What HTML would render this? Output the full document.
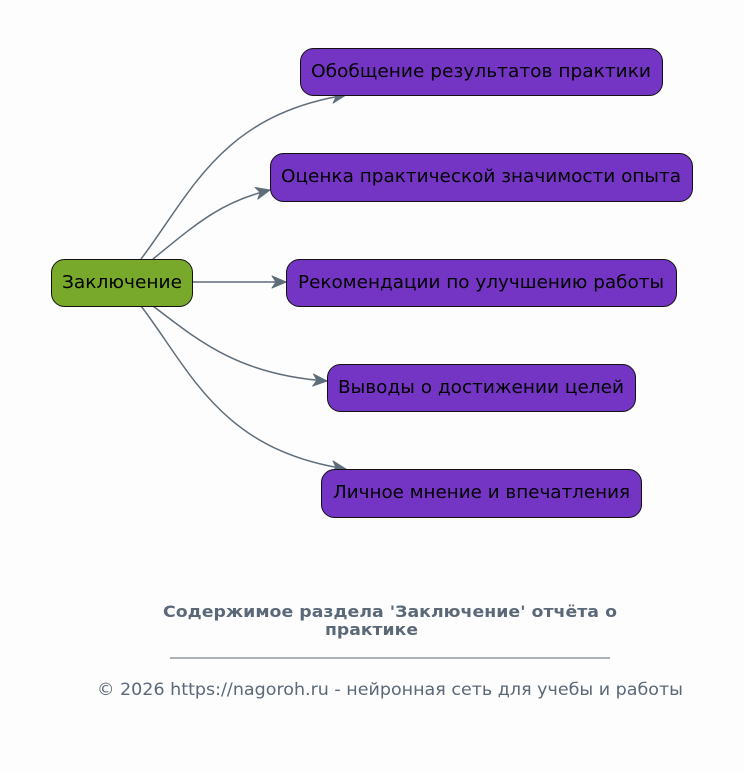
<!DOCTYPE html>
<html><head><meta charset="utf-8"><style>
html,body{margin:0;padding:0;background:#fdfdfd;}
svg{display:block;font-family:"DejaVu Sans","Liberation Sans",sans-serif;}
</style></head><body>
<svg width="744" height="773" viewBox="0 0 744 773" xmlns="http://www.w3.org/2000/svg">
<defs>
<marker id="a" viewBox="0 0 16 14" refX="15" refY="7" markerWidth="16" markerHeight="14" markerUnits="userSpaceOnUse" orient="auto">
<path d="M1,1 L15,7 L1,13 L5,7 Z" fill="#5f6d7a" stroke="#5f6d7a" stroke-width="1" stroke-linejoin="round"/>
</marker>
</defs>
<g fill="none" stroke="#5f6d7a" stroke-width="1.5" marker-end="url(#a)">
<path d="M141,259 C190,195 220,115 346,95"/>
<path d="M153,259 C195,225 220,202 270,190"/>
<path d="M192,282 L286,282"/>
<path d="M153,306 C200,342 240,375 327,381"/>
<path d="M141,306 C190,370 220,450 346,469"/>
</g>
<g stroke="#111" stroke-width="1">
<rect x="51.5" y="259.5" width="141" height="47" rx="13" fill="#79a92b"/>
<rect x="300.5" y="48.5" width="362" height="47" rx="13" fill="#7434c4"/>
<rect x="270.5" y="153.5" width="422" height="48" rx="13" fill="#7434c4"/>
<rect x="286.5" y="259.5" width="390" height="47" rx="13" fill="#7434c4"/>
<rect x="327.5" y="364.5" width="308" height="47" rx="13" fill="#7434c4"/>
<rect x="321.5" y="469.5" width="320" height="48" rx="13" fill="#7434c4"/>
</g>
<g font-size="17.5" fill="#000" lengthAdjust="spacingAndGlyphs">
<text x="62" y="288" textLength="120" lengthAdjust="spacingAndGlyphs">Заключение</text>
<text x="311" y="77" textLength="340" lengthAdjust="spacingAndGlyphs">Обобщение результатов практики</text>
<text x="281" y="182" textLength="400" lengthAdjust="spacingAndGlyphs">Оценка практической значимости опыта</text>
<text x="298" y="288" textLength="366" lengthAdjust="spacingAndGlyphs">Рекомендации по улучшению работы</text>
<text x="338" y="393" textLength="286" lengthAdjust="spacingAndGlyphs">Выводы о достижении целей</text>
<text x="333" y="498" textLength="297" lengthAdjust="spacingAndGlyphs">Личное мнение и впечатления</text>
</g>
<g fill="#5a6878">
<text x="163" y="617" font-size="16" font-weight="bold" textLength="454" lengthAdjust="spacingAndGlyphs">Содержимое раздела 'Заключение' отчёта о</text>
<text x="325" y="635" font-size="16" font-weight="bold" textLength="93" lengthAdjust="spacingAndGlyphs">практике</text>
<line x1="170" y1="658" x2="610" y2="658" stroke="#5a6878" stroke-width="1"/>
<text x="97" y="695" font-size="17" textLength="586" lengthAdjust="spacingAndGlyphs">© 2026 https://nagoroh.ru - нейронная сеть для учебы и работы</text>
</g>
</svg>
</body></html>
